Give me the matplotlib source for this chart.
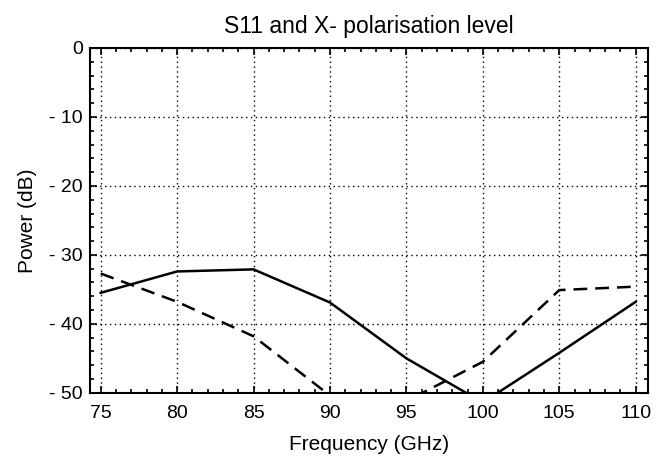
import matplotlib
matplotlib.use("Agg")
import matplotlib.pyplot as plt
from matplotlib.ticker import MultipleLocator, FuncFormatter

# values
freq = [75, 80, 85, 90, 95, 100, 105, 110]
s11 = [-35.5, -32.4, -32.1, -36.9, -45.0, -51.4, -44.2, -36.8]
xpol = [-32.7, -36.8, -41.8, -50.4, -51.2, -45.5, -35.1, -34.6]

plt.rcParams['font.family'] = ['Liberation Sans', 'DejaVu Sans']

fig = plt.figure(figsize=(6.69, 4.66), dpi=100)
ax = fig.add_axes([0.1345, 0.157, 0.834, 0.740])

ax.plot(freq, s11, color='black', lw=1.8, linestyle='-')
ax.plot(freq, xpol, color='black', lw=1.8, linestyle=(0, (5.5, 3.2)))

ax.set_xlim(74.3, 110.8)
ax.set_ylim(-50, 0)
ax.xaxis.set_major_locator(MultipleLocator(5))
ax.xaxis.set_minor_locator(MultipleLocator(1))
ax.yaxis.set_major_locator(MultipleLocator(10))
ax.yaxis.set_minor_locator(MultipleLocator(2))

def ylab(v, pos):
    v = int(round(v))
    return "- %d" % -v if v < 0 else "%d" % v

ax.yaxis.set_major_formatter(FuncFormatter(ylab))

ax.tick_params(which='both', direction='in', top=True, right=True,
               width=1.2, labelsize=14, colors='black')
ax.tick_params(which='major', length=5)
ax.tick_params(which='minor', length=3)
ax.tick_params(axis='x', which='major', pad=9)
ax.tick_params(axis='y', which='major', pad=5)
for sp in ax.spines.values():
    sp.set_linewidth(1.5)

ax.grid(True, which='major', color='black', linestyle=(0, (1, 2.5)), lw=1.0)

ax.set_title('S11 and X- polarisation level', fontsize=16.5, pad=11)
ax.set_xlabel('Frequency (GHz)', fontsize=15, labelpad=9)
ax.set_ylabel('Power (dB)', fontsize=15, labelpad=9)

fig.savefig('out.png', dpi=100)
